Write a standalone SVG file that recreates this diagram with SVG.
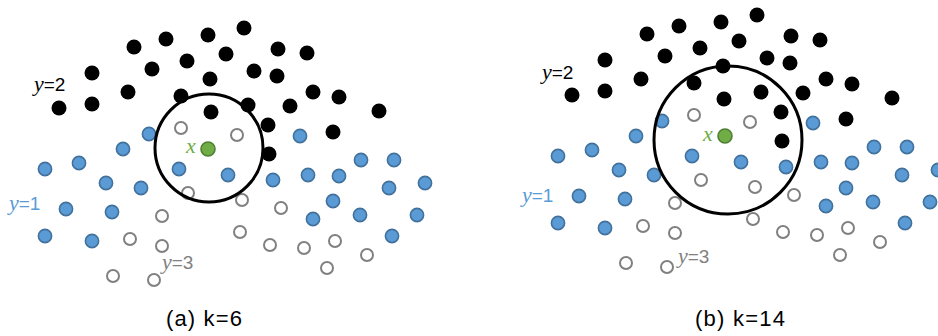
<svg xmlns="http://www.w3.org/2000/svg" xmlns:xlink="http://www.w3.org/1999/xlink" width="938" height="336" viewBox="0 0 938 336">
  <style>
    .c2 { fill: #000; }
    .c1 { fill: #5B9BD5; stroke: #41719C; stroke-width: 1.6; }
    .c3 { fill: #fff; stroke: #808080; stroke-width: 2; }
    .q  { fill: #70AD47; stroke: #507E32; stroke-width: 1.6; }
    .ball { fill: none; stroke: #000; stroke-width: 3; }
    .lbl { font-family: "Liberation Sans", Arial, sans-serif; font-size: 19px; }
    .var { font-family: "Liberation Serif", "Times New Roman", serif; font-style: italic; font-size: 22px; }
    .cap { font-family: "Liberation Sans", Arial, sans-serif; font-size: 22px; fill: #000; }
  </style>
  <defs>
    <!-- labelled training samples, shared by both panels -->
    <g id="samples">
      <g id="class2">
        <circle class="c2" cx="134" cy="47" r="7.5"/>
        <circle class="c2" cx="166" cy="39" r="7.5"/>
        <circle class="c2" cx="208" cy="35" r="7.5"/>
        <circle class="c2" cx="226" cy="54" r="7.5"/>
        <circle class="c2" cx="244" cy="28" r="7.5"/>
        <circle class="c2" cx="92" cy="73" r="7.5"/>
        <circle class="c2" cx="152" cy="69" r="7.5"/>
        <circle class="c2" cx="187" cy="61" r="7.5"/>
        <circle class="c2" cx="210" cy="79" r="7.5"/>
        <circle class="c2" cx="59" cy="108" r="7.5"/>
        <circle class="c2" cx="92" cy="104" r="7.5"/>
        <circle class="c2" cx="128" cy="92" r="7.5"/>
        <circle class="c2" cx="181" cy="96" r="7.5"/>
        <circle class="c2" cx="211" cy="112" r="7.5"/>
        <circle class="c2" cx="278" cy="49" r="7.5"/>
        <circle class="c2" cx="307" cy="53" r="7.5"/>
        <circle class="c2" cx="254" cy="71" r="7.5"/>
        <circle class="c2" cx="277" cy="76" r="7.5"/>
        <circle class="c2" cx="313" cy="92" r="7.5"/>
        <circle class="c2" cx="339" cy="97" r="7.5"/>
        <circle class="c2" cx="248" cy="105" r="7.5"/>
        <circle class="c2" cx="290" cy="106" r="7.5"/>
        <circle class="c2" cx="379" cy="111" r="7.5"/>
        <circle class="c2" cx="268" cy="125" r="7.5"/>
        <circle class="c2" cx="333" cy="132" r="7.5"/>
        <circle class="c2" cx="269" cy="154" r="7.5"/>
      </g>
      <g id="class1">
        <circle class="c1" cx="149" cy="134" r="6.6"/>
        <circle class="c1" cx="123" cy="149" r="6.6"/>
        <circle class="c1" cx="300" cy="136" r="6.6"/>
        <circle class="c1" cx="45" cy="169" r="6.6"/>
        <circle class="c1" cx="79" cy="163" r="6.6"/>
        <circle class="c1" cx="106" cy="183" r="6.6"/>
        <circle class="c1" cx="141" cy="188" r="6.6"/>
        <circle class="c1" cx="179" cy="169" r="6.6"/>
        <circle class="c1" cx="228" cy="175" r="6.6"/>
        <circle class="c1" cx="66" cy="209" r="6.6"/>
        <circle class="c1" cx="112" cy="212" r="6.6"/>
        <circle class="c1" cx="45" cy="236" r="6.6"/>
        <circle class="c1" cx="92" cy="241" r="6.6"/>
        <circle class="c1" cx="361" cy="160" r="6.6"/>
        <circle class="c1" cx="394" cy="160" r="6.6"/>
        <circle class="c1" cx="273" cy="180" r="6.6"/>
        <circle class="c1" cx="308" cy="175" r="6.6"/>
        <circle class="c1" cx="339" cy="176" r="6.6"/>
        <circle class="c1" cx="389" cy="188" r="6.6"/>
        <circle class="c1" cx="425" cy="183" r="6.6"/>
        <circle class="c1" cx="333" cy="201" r="6.6"/>
        <circle class="c1" cx="313" cy="219" r="6.6"/>
        <circle class="c1" cx="360" cy="215" r="6.6"/>
        <circle class="c1" cx="417" cy="215" r="6.6"/>
        <circle class="c1" cx="392" cy="236" r="6.6"/>
      </g>
      <g id="class3">
        <circle class="c3" cx="181" cy="128" r="6"/>
        <circle class="c3" cx="237" cy="135" r="6"/>
        <circle class="c3" cx="188" cy="193" r="6"/>
        <circle class="c3" cx="162" cy="216" r="6"/>
        <circle class="c3" cx="130" cy="239" r="6"/>
        <circle class="c3" cx="162" cy="246" r="6"/>
        <circle class="c3" cx="113" cy="276" r="6"/>
        <circle class="c3" cx="154" cy="280" r="6"/>
        <circle class="c3" cx="242" cy="200" r="6"/>
        <circle class="c3" cx="281" cy="208" r="6"/>
        <circle class="c3" cx="240" cy="232" r="6"/>
        <circle class="c3" cx="270" cy="245" r="6"/>
        <circle class="c3" cx="304" cy="248" r="6"/>
        <circle class="c3" cx="335" cy="241" r="6"/>
        <circle class="c3" cx="367" cy="255" r="6"/>
        <circle class="c3" cx="327" cy="268" r="6"/>
      </g>
    </g>
  </defs>

  <!-- (a) k=6 -->
  <g id="panel-a">
    <use xlink:href="#samples" href="#samples"/>
    <circle class="ball" cx="209" cy="148" r="54"/>
    <circle class="q" cx="208" cy="149" r="7"/>
    <text class="var" x="186" y="153" font-size="24" fill="#70AD47">x</text>
    <text class="lbl" x="34" y="91"><tspan class="var">y</tspan>=2</text>
    <text class="lbl" x="9" y="210" fill="#5B9BD5"><tspan class="var">y</tspan>=1</text>
    <text class="lbl" x="162" y="269" fill="#808080"><tspan class="var">y</tspan>=3</text>
    <text class="cap" x="166" y="326" textLength="76">(a) k=6</text>
  </g>

  <!-- (b) k=14 -->
  <g id="panel-b">
    <use xlink:href="#samples" href="#samples" transform="translate(513,-13)"/>
    <circle class="ball" cx="728" cy="140" r="74"/>
    <circle class="q" cx="725" cy="136" r="7"/>
    <text class="var" x="703" y="141" font-size="24" fill="#70AD47">x</text>
    <text class="lbl" x="542" y="79"><tspan class="var">y</tspan>=2</text>
    <text class="lbl" x="522" y="202" fill="#5B9BD5"><tspan class="var">y</tspan>=1</text>
    <text class="lbl" x="678" y="263" fill="#808080"><tspan class="var">y</tspan>=3</text>
    <text class="cap" x="695" y="326" textLength="90">(b) k=14</text>
  </g>
</svg>
